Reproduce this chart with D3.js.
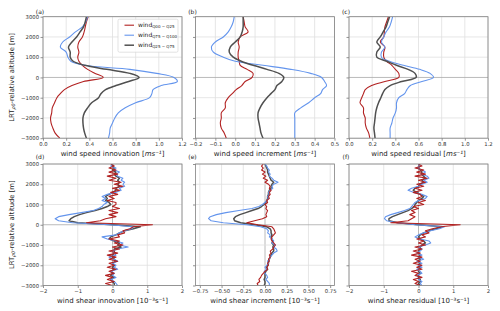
<!DOCTYPE html>
<html>
<head>
<meta charset="utf-8">
<script src="https://cdn.jsdelivr.net/npm/d3@7"></script>
<style>
body { margin: 0; background: #fff; }
text { font-family: "DejaVu Sans", sans-serif; }
</style>
</head>
<body>
<div id="chart"></div>
<script>
// altitude levels (m, relative to LRT)
const altTop = [3000, 2750, 2500, 2250, 2000, 1750, 1500, 1250, 1000, 800, 600, 400, 200, 0,
  -200, -400, -600, -800, -1000, -1250, -1500, -1750, -2000, -2250, -2500, -2750, -3000];

const altBot = [3000, 2900, 2800, 2700, 2600, 2500, 2400, 2300, 2200, 2100,
  2000, 1900, 1800, 1700, 1600, 1500, 1400, 1300, 1200, 1100,
  1000, 900, 800, 700, 600, 500, 400, 300, 200, 100,
  0, -100, -200, -300, -400, -500, -600, -700, -800, -900,
  -1000, -1100, -1200, -1300, -1400, -1500, -1600, -1700, -1800, -1900,
  -2000, -2100, -2200, -2300, -2400, -2500, -2600, -2700, -2800, -2900, -3000];

// (a) wind speed innovation
const speedInnovLow = [0.39, 0.375, 0.365, 0.355, 0.34, 0.31, 0.30, 0.31, 0.30, 0.31, 0.34, 0.385, 0.45, 0.52,
  0.35, 0.25, 0.185, 0.15, 0.12, 0.10, 0.08, 0.075, 0.065, 0.07, 0.085, 0.105, 0.145];
const speedInnovHigh = [0.385, 0.37, 0.34, 0.28, 0.23, 0.17, 0.15, 0.20, 0.215, 0.24, 0.36, 0.75, 0.98, 1.13,
  1.16, 1.02, 0.95, 0.94, 0.92, 0.80, 0.71, 0.65, 0.62, 0.60, 0.58, 0.575, 0.565];
const speedInnovMid = [0.375, 0.365, 0.35, 0.32, 0.29, 0.25, 0.22, 0.235, 0.235, 0.26, 0.36, 0.55, 0.75, 0.83,
  0.74, 0.63, 0.54, 0.50, 0.48, 0.42, 0.385, 0.357, 0.345, 0.345, 0.35, 0.36, 0.375];

// (b) wind speed increment
const speedIncLow = [0.04, 0.045, 0.05, 0.065, 0.025, 0.015, 0.02, 0.015, 0.015, 0.02, 0.025, 0.06, 0.09, 0.085,
  0.05, 0.033, 0.005, -0.015, -0.035, -0.05, -0.05, -0.07, -0.07, -0.075, -0.07, -0.055, -0.045];
const speedIncHigh = [-0.005, -0.01, -0.02, -0.035, -0.06, -0.10, -0.12, -0.11, -0.06, 0.0, 0.14, 0.28, 0.38, 0.435,
  0.45, 0.46, 0.44, 0.43, 0.40, 0.37, 0.33, 0.30, 0.30, 0.30, 0.30, 0.30, 0.30];
const speedIncMid = [0.04, 0.04, 0.04, 0.035, 0.025, 0.0, -0.025, -0.03, -0.01, 0.03, 0.09, 0.16, 0.22, 0.245,
  0.235, 0.21, 0.20, 0.18, 0.16, 0.14, 0.125, 0.115, 0.115, 0.12, 0.125, 0.13, 0.14];

// (c) wind speed residual
const speedResLow = [0.34, 0.325, 0.31, 0.305, 0.30, 0.27, 0.31, 0.30, 0.30, 0.325, 0.37, 0.40, 0.43, 0.43,
  0.31, 0.195, 0.14, 0.125, 0.11, 0.095, 0.125, 0.125, 0.14, 0.14, 0.15, 0.17, 0.18];
const speedResHigh = [0.377, 0.365, 0.35, 0.32, 0.30, 0.28, 0.31, 0.28, 0.28, 0.35, 0.47, 0.61, 0.70, 0.73,
  0.63, 0.53, 0.50, 0.48, 0.43, 0.41, 0.41, 0.40, 0.38, 0.37, 0.355, 0.355, 0.355];
const speedResMid = [0.35, 0.335, 0.32, 0.295, 0.27, 0.24, 0.27, 0.24, 0.24, 0.325, 0.41, 0.51, 0.57, 0.58,
  0.455, 0.355, 0.31, 0.29, 0.275, 0.255, 0.24, 0.23, 0.225, 0.22, 0.215, 0.22, 0.225];

// (d) wind shear innovation
const shearInnovLow = [-0.05, 0.05, -0.1, 0.1, -0.1, 0.15, -0.15, 0.1, -0.1, 0.25,
  0.05, 0.3, 0.0, 0.2, -0.05, 0.15, -0.1, 0.05, -0.15, 0.1,
  0.1, 0.0, 0.2, -0.1, 0.15, -0.1, 0.1, -0.2, -0.35, -0.75,
  1.15, 0.6, 0.5, 0.3, 0.35, 0.15, 0.2, -0.1, 0.2, 0.05,
  0.3, 0.0, 0.2, -0.1, 0.15, -0.15, 0.1, -0.1, 0.15, -0.1,
  0.05, -0.15, 0.1, -0.1, 0.05, -0.2, 0.0, -0.15, 0.05, -0.2, 0.0];
const shearInnovHigh = [0.0, -0.05, 0.1, 0.05, 0.2, 0.1, 0.15, 0.3, 0.25, 0.35,
  0.3, 0.35, 0.2, 0.25, 0.1, -0.15, -0.3, -0.2, -0.3, -0.15,
  -0.25, -0.3, -0.4, -0.55, -0.9, -1.25, -1.55, -1.65, -1.55, -1.15,
  -0.1, 0.6, 0.55, 0.35, 0.2, 0.1, -0.3, -0.15, 0.1, 0.3,
  0.2, 0.45, 0.15, 0.0, 0.05, 0.1, -0.1, 0.05, 0.15, 0.0,
  0.1, 0.05, 0.15, -0.05, 0.05, 0.0, 0.1, -0.05, 0.05, 0.1, 0.15];
const shearInnovMid = [0.0, 0.0, 0.05, 0.0, 0.1, 0.05, 0.1, 0.2, 0.15, 0.2,
  0.15, 0.2, 0.1, 0.1, 0.0, -0.1, -0.2, -0.15, -0.2, -0.1,
  -0.05, -0.15, -0.3, -0.5, -0.75, -0.95, -1.1, -1.2, -1.25, -1.0,
  0.0, 0.8, 0.6, 0.35, 0.2, 0.1, -0.05, -0.1, 0.05, 0.2,
  0.15, 0.25, 0.05, 0.05, 0.05, 0.0, 0.0, 0.05, 0.1, 0.0,
  0.05, 0.0, 0.05, -0.05, 0.0, -0.05, 0.05, -0.05, 0.0, 0.05, 0.05];

// (e) wind shear increment
const shearIncLow = [-0.02, -0.04, -0.02, -0.04, 0.0, -0.03, 0.01, -0.02, 0.03, 0.0,
  0.04, 0.06, 0.05, 0.07, 0.05, 0.06, 0.04, 0.05, 0.02, 0.03,
  0.0, 0.02, 0.01, 0.03, 0.02, 0.01, 0.02, -0.03, -0.12, -0.21,
  -0.08, 0.08, 0.1, 0.11, 0.12, 0.1, 0.08, 0.07, 0.08, 0.1,
  0.12, 0.1, 0.09, 0.06, 0.07, 0.05, 0.06, 0.04, 0.05, 0.03,
  0.04, 0.02, 0.03, 0.0, -0.02, -0.04, -0.05, -0.07, -0.06, -0.09, -0.08];
const shearIncHigh = [0.0, 0.02, 0.03, 0.05, 0.04, 0.06, 0.05, 0.08, 0.1, 0.15,
  0.1, 0.08, 0.09, 0.06, 0.04, 0.05, 0.03, 0.04, 0.02, 0.0,
  -0.03, -0.07, -0.15, -0.3, -0.45, -0.56, -0.63, -0.65, -0.62, -0.48,
  -0.21, -0.05, 0.02, 0.04, 0.03, 0.06, 0.05, 0.08, 0.1, 0.08,
  0.12, 0.1, 0.13, 0.14, 0.1, 0.08, 0.06, 0.05, 0.03, 0.04,
  0.02, 0.0, 0.02, -0.01, 0.0, 0.02, 0.03, 0.01, 0.03, 0.05, 0.05];
const shearIncMid = [0.0, 0.01, 0.02, 0.03, 0.03, 0.04, 0.05, 0.06, 0.07, 0.1,
  0.08, 0.07, 0.07, 0.05, 0.04, 0.04, 0.03, 0.03, 0.02, 0.01,
  -0.01, -0.04, -0.08, -0.15, -0.22, -0.29, -0.34, -0.36, -0.35, -0.28,
  -0.12, 0.02, 0.06, 0.07, 0.07, 0.08, 0.07, 0.08, 0.09, 0.08,
  0.1, 0.09, 0.1, 0.1, 0.08, 0.07, 0.06, 0.05, 0.04, 0.04,
  0.03, 0.02, 0.03, 0.01, 0.0, 0.0, 0.0, -0.01, 0.0, 0.0, -0.01];

// (f) wind shear residual
const shearResLow = [0.0, 0.1, -0.1, 0.15, -0.05, 0.2, -0.1, 0.25, 0.0, 0.2,
  -0.05, 0.15, -0.1, 0.1, -0.15, 0.05, 0.1, -0.05, 0.2, 0.0,
  0.15, -0.15, 0.0, -0.2, -0.1, -0.25, -0.1, -0.2, -0.3, -0.8,
  1.2, 0.65, 0.4, 0.2, 0.3, 0.1, 0.2, -0.05, 0.15, 0.0,
  0.2, -0.1, 0.1, -0.15, 0.05, -0.2, 0.1, -0.1, 0.05, -0.15,
  0.1, -0.05, 0.1, -0.2, 0.0, -0.1, 0.1, -0.15, 0.0, -0.1, 0.05];
const shearResHigh = [0.0, 0.05, -0.05, 0.1, 0.2, 0.1, 0.25, 0.3, 0.15, 0.25,
  0.1, 0.0, -0.2, -0.3, -0.15, 0.1, 0.25, 0.2, 0.0, -0.1,
  -0.15, -0.2, -0.25, -0.4, -0.6, -0.8, -0.95, -0.98, -0.92, -0.6,
  -0.1, 0.75, 0.6, 0.35, 0.15, 0.0, -0.1, 0.05, 0.3, 0.35,
  0.2, 0.0, 0.1, 0.05, -0.05, 0.1, 0.0, 0.15, -0.05, 0.1,
  0.0, 0.1, -0.05, 0.05, 0.1, -0.05, 0.05, 0.0, 0.1, 0.05, 0.1];
const shearResMid = [0.0, 0.03, 0.0, 0.05, 0.1, 0.08, 0.15, 0.2, 0.1, 0.15,
  0.05, 0.0, -0.1, -0.15, -0.05, 0.05, 0.15, 0.1, 0.0, -0.05,
  -0.1, -0.12, -0.2, -0.3, -0.45, -0.6, -0.75, -0.85, -0.85, -0.6,
  0.0, 0.7, 0.5, 0.3, 0.15, 0.05, 0.0, 0.05, 0.15, 0.2,
  0.1, 0.05, 0.05, 0.0, 0.0, 0.05, 0.0, 0.05, 0.0, 0.05,
  0.0, 0.05, 0.0, 0.0, 0.05, 0.0, 0.0, 0.05, 0.05, 0.0, 0.05];

// tick values
const altTicks = [-3000, -2000, -1000, 0, 1000, 2000, 3000];
const speedTicks = [0, 0.2, 0.4, 0.6, 0.8, 1.0, 1.2];
const incTicks = [-0.2, -0.1, 0, 0.1, 0.2, 0.3, 0.4, 0.5];
const shearTicks = [-2, -1, 0, 1, 2];
const shearIncTicks = [-0.75, -0.5, -0.25, 0, 0.25, 0.5, 0.75];

const seriesNames = ["Q00 \u2212 Q25", "Q75 \u2212 Q100", "Q25 \u2212 Q75"];
const colors = { low: "#b22222", high: "#6495ed", mid: "#505050" };

const width = 500, height = 311;
const colLeft = [43, 195.5, 349];
const rowTop = [16.7, 164];
const pw = 139, ph = 121.5;

const svg = d3.select("#chart")
  .append("svg")
  .attr("width", width)
  .attr("height", height);

const panels = [
  { tag: "(a)", col: 0, row: 0, dom: [0, 1.2], ticks: speedTicks, fmt: ".1f", alt: altTop,
    low: speedInnovLow, high: speedInnovHigh, mid: speedInnovMid, label: "wind speed innovation", unit: "speed" },
  { tag: "(b)", col: 1, row: 0, dom: [-0.2, 0.5], ticks: incTicks, fmt: ".1f", alt: altTop,
    low: speedIncLow, high: speedIncHigh, mid: speedIncMid, label: "wind speed increment", unit: "speed" },
  { tag: "(c)", col: 2, row: 0, dom: [0, 1.2], ticks: speedTicks, fmt: ".1f", alt: altTop,
    low: speedResLow, high: speedResHigh, mid: speedResMid, label: "wind speed residual", unit: "speed" },
  { tag: "(d)", col: 0, row: 1, dom: [-2, 2], ticks: shearTicks, fmt: "d", alt: altBot,
    low: shearInnovLow, high: shearInnovHigh, mid: shearInnovMid, label: "wind shear innovation", unit: "shear" },
  { tag: "(e)", col: 1, row: 1, dom: [-0.8, 0.8], ticks: shearIncTicks, fmt: ".2f", alt: altBot,
    low: shearIncLow, high: shearIncHigh, mid: shearIncMid, label: "wind shear increment", unit: "shear" },
  { tag: "(f)", col: 2, row: 1, dom: [-2, 2], ticks: shearTicks, fmt: "d", alt: altBot,
    low: shearResLow, high: shearResHigh, mid: shearResMid, label: "wind shear residual", unit: "shear" }
];

const y = d3.scaleLinear().domain([-3000, 3000]).range([ph, 0]);

panels.forEach((p, i) => {
  const g = svg.append("g")
    .attr("transform", `translate(${colLeft[p.col]},${rowTop[p.row]})`);
  const x = d3.scaleLinear().domain(p.dom).range([0, pw]);

  // gridlines
  g.selectAll(".vgrid")
    .data(p.ticks)
    .join("line")
    .attr("x1", d => x(d)).attr("x2", d => x(d))
    .attr("y1", 0).attr("y2", ph)
    .attr("stroke", d => (d === 0 && p.row === 1) ? "#a8a8a8" : "#e0e0e0")
    .attr("stroke-width", 0.8);
  g.selectAll(".hgrid")
    .data(altTicks)
    .join("line")
    .attr("x1", 0).attr("x2", pw)
    .attr("y1", d => y(d)).attr("y2", d => y(d))
    .attr("stroke", d => d === 0 ? "#a8a8a8" : "#e0e0e0")
    .attr("stroke-width", 0.8);

  // clip
  const clipId = "clip" + i;
  g.append("clipPath").attr("id", clipId)
    .append("rect").attr("width", pw).attr("height", ph);

  const line = d3.line()
    .x(d => x(d[0]))
    .y(d => y(d[1]))
    .curve(p.row === 0 ? d3.curveCatmullRom.alpha(0.5) : d3.curveLinear);

  const order = p.row === 0 ? ["low", "high", "mid"] : ["mid", "high", "low"];
  order.forEach(k => {
    g.append("path")
      .datum(p[k].map((v, j) => [v, p.alt[j]]))
      .attr("clip-path", `url(#${clipId})`)
      .attr("fill", "none")
      .attr("stroke", colors[k])
      .attr("stroke-width", k === "mid" ? 1.5 : 1.1)
      .attr("stroke-linejoin", "round")
      .attr("d", line);
  });

  // axes
  const xAxis = g.append("g")
    .attr("transform", `translate(0,${ph})`)
    .call(d3.axisBottom(x).tickValues(p.ticks).tickFormat(d3.format(p.fmt))
      .tickSize(2.5).tickPadding(1.5));
  const yAxis = g.append("g")
    .call(d3.axisLeft(y).tickValues(altTicks)
      .tickFormat(p.col === 0 ? d3.format("d") : "")
      .tickSize(2.5).tickPadding(1.5));
  [xAxis, yAxis].forEach(a => {
    a.select(".domain").remove();
    a.selectAll(".tick line").attr("stroke", "#666").attr("stroke-width", 0.7);
    a.selectAll(".tick text").attr("fill", "#333").style("font-size", "5.3px")
      .style("font-family", "DejaVu Sans");
  });

  // spines
  g.append("rect")
    .attr("width", pw).attr("height", ph)
    .attr("fill", "none").attr("stroke", "#808080").attr("stroke-width", 0.8);

  // panel tag
  g.append("text")
    .attr("x", -3).attr("y", p.row === 0 ? -3 : -5.5)
    .attr("text-anchor", "middle")
    .style("font-size", "6px").attr("fill", "#222")
    .text(p.tag);

  // x label
  const xl = g.append("text")
    .attr("x", pw / 2).attr("y", ph + 17.5)
    .attr("text-anchor", "middle")
    .style("font-size", "7px").attr("fill", "#222");
  xl.append("tspan").text(p.label + " [");
  if (p.unit === "speed") {
    xl.append("tspan").style("font-style", "italic").text("ms\u207B\u00B9");
  } else {
    xl.append("tspan").text("10\u207B\u00B3s\u207B\u00B9");
  }
  xl.append("tspan").text("]");

  // y label
  if (p.col === 0) {
    const yl = g.append("text")
      .attr("transform", `translate(-29,${ph / 2}) rotate(-90)`)
      .attr("text-anchor", "middle")
      .style("font-size", "6.8px").attr("fill", "#222");
    yl.append("tspan").text("LRT");
    yl.append("tspan").attr("dy", 1.4).style("font-size", "4.8px").style("font-style", "italic").text("\u03C10");
    yl.append("tspan").attr("dy", -1.4).text("-relative altitude [m]");
  }

  // legend
  if (i === 0) {
    const lg = g.append("g").attr("transform", "translate(75,2.5)");
    lg.append("rect")
      .attr("width", 60).attr("height", 33).attr("rx", 1.5)
      .attr("fill", "#fff").attr("fill-opacity", 0.85)
      .attr("stroke", "#d0d0d0").attr("stroke-width", 0.6);
    ["low", "high", "mid"].forEach((k, j) => {
      const yy = 6 + j * 10;
      lg.append("line")
        .attr("x1", 6.5).attr("x2", 16)
        .attr("y1", yy).attr("y2", yy)
        .attr("stroke", colors[k]).attr("stroke-width", k === "mid" ? 1.5 : 1.1);
      const t = lg.append("text")
        .attr("x", 20).attr("y", yy + 1.8)
        .style("font-size", "6px").attr("fill", "#222");
      t.append("tspan").text("wind");
      t.append("tspan").attr("dy", 1.3).style("font-size", "4px").text(seriesNames[j]);
    });
  }
});
</script>
</body>
</html>
